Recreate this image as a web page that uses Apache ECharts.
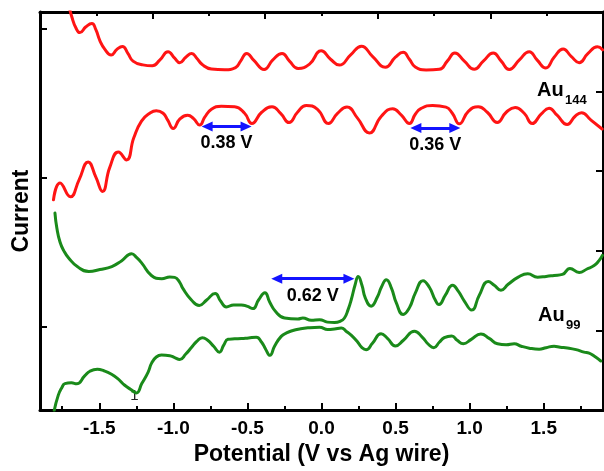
<!DOCTYPE html>
<html>
<head>
<meta charset="utf-8">
<script src="https://cdn.jsdelivr.net/npm/echarts@6/dist/echarts.min.js"></script>
<style>
html, body { margin: 0; padding: 0; background: #fff; }
#echart { width: 604px; height: 471px; }
</style>
</head>
<body>
<div id="echart"></div>
<script>
// potential axis (V vs Ag wire)
var potentialLabels = [-1.5, -1.0, -0.5, 0.0, 0.5, 1.0, 1.5];
var potentialMinor = [-1.75, -1.25, -0.75, -0.25, 0.25, 0.75, 1.25, 1.75];

// Au144, two sweeps [potential, current (a.u.)]
var au144Top = [
	[-1.708, 5.099], [-1.685, 4.938], [-1.658, 4.802], [-1.631, 4.741], [-1.590, 4.815], [-1.550, 4.856],
	[-1.523, 4.778], [-1.496, 4.642], [-1.462, 4.531], [-1.420, 4.459], [-1.381, 4.531], [-1.344, 4.568],
	[-1.307, 4.481], [-1.272, 4.383], [-1.206, 4.336], [-1.142, 4.325], [-1.092, 4.395], [-1.036, 4.500],
	[-0.991, 4.420], [-0.957, 4.364], [-0.916, 4.432], [-0.876, 4.479], [-0.842, 4.420], [-0.805, 4.340],
	[-0.743, 4.284], [-0.654, 4.275], [-0.580, 4.302], [-0.546, 4.383], [-0.505, 4.479], [-0.458, 4.395],
	[-0.387, 4.278], [-0.330, 4.395], [-0.266, 4.479], [-0.216, 4.383], [-0.158, 4.290], [-0.081, 4.346],
	[-0.002, 4.512], [0.061, 4.407], [0.121, 4.333], [0.195, 4.457], [0.270, 4.570], [0.344, 4.444],
	[0.431, 4.305], [0.499, 4.432], [0.551, 4.494], [0.593, 4.407], [0.633, 4.309], [0.706, 4.272],
	[0.795, 4.280], [0.849, 4.383], [0.900, 4.485], [0.964, 4.383], [1.031, 4.280], [1.092, 4.383],
	[1.159, 4.485], [1.213, 4.383], [1.267, 4.278], [1.334, 4.395], [1.402, 4.502], [1.456, 4.395],
	[1.514, 4.296], [1.570, 4.432], [1.631, 4.535], [1.685, 4.444], [1.739, 4.364], [1.799, 4.481],
	[1.862, 4.562], [1.897, 4.525]
];
var au144Bottom = [
	[-1.809, 2.642], [-1.765, 2.852], [-1.695, 2.679], [-1.637, 2.889], [-1.575, 3.117], [-1.523, 2.926],
	[-1.478, 2.747], [-1.429, 3.049], [-1.371, 3.241], [-1.316, 3.142], [-1.267, 3.420], [-1.215, 3.630],
	[-1.159, 3.728], [-1.115, 3.759], [-1.069, 3.728], [-1.038, 3.642], [-1.001, 3.537], [-0.957, 3.654],
	[-0.903, 3.704], [-0.863, 3.660], [-0.822, 3.580], [-0.788, 3.679], [-0.743, 3.778], [-0.676, 3.815],
	[-0.586, 3.809], [-0.519, 3.728], [-0.470, 3.599], [-0.404, 3.741], [-0.334, 3.809], [-0.276, 3.728],
	[-0.219, 3.611], [-0.162, 3.741], [-0.103, 3.827], [-0.027, 3.778], [0.047, 3.599], [0.108, 3.728],
	[0.172, 3.806], [0.243, 3.667], [0.323, 3.481], [0.404, 3.691], [0.480, 3.784], [0.539, 3.704],
	[0.593, 3.599], [0.633, 3.716], [0.670, 3.786], [0.750, 3.827], [0.840, 3.805], [0.883, 3.728],
	[0.930, 3.595], [0.991, 3.753], [1.058, 3.811], [1.119, 3.741], [1.186, 3.611], [1.247, 3.741],
	[1.307, 3.800], [1.368, 3.728], [1.422, 3.599], [1.482, 3.716], [1.536, 3.790], [1.590, 3.704],
	[1.658, 3.586], [1.712, 3.691], [1.755, 3.735], [1.819, 3.642], [1.894, 3.531]
];

// Au99, two sweeps
var au99Top = [
	[-1.799, 2.475], [-1.786, 2.284], [-1.765, 2.111], [-1.739, 2.000], [-1.708, 1.914], [-1.644, 1.796],
	[-1.570, 1.741], [-1.496, 1.765], [-1.415, 1.802], [-1.348, 1.877], [-1.282, 1.963], [-1.247, 1.914],
	[-1.213, 1.846], [-1.148, 1.691], [-1.078, 1.651], [-1.024, 1.673], [-0.991, 1.667], [-0.957, 1.605],
	[-0.937, 1.531], [-0.878, 1.383], [-0.825, 1.315], [-0.775, 1.383], [-0.718, 1.465], [-0.681, 1.370],
	[-0.642, 1.296], [-0.593, 1.321], [-0.541, 1.321], [-0.499, 1.302], [-0.463, 1.275], [-0.425, 1.383],
	[-0.382, 1.475], [-0.350, 1.358], [-0.310, 1.238], [-0.249, 1.157], [-0.160, 1.144], [-0.126, 1.157],
	[-0.069, 1.127], [-0.013, 1.136], [0.040, 1.105], [0.088, 1.099], [0.128, 1.117], [0.155, 1.157],
	[0.179, 1.259], [0.202, 1.395], [0.226, 1.568], [0.248, 1.679], [0.273, 1.568], [0.296, 1.407],
	[0.335, 1.305], [0.377, 1.420], [0.404, 1.543], [0.438, 1.638], [0.472, 1.531], [0.505, 1.346],
	[0.551, 1.201], [0.593, 1.284], [0.633, 1.469], [0.685, 1.626], [0.728, 1.543], [0.768, 1.383],
	[0.793, 1.325], [0.836, 1.444], [0.885, 1.568], [0.923, 1.494], [0.964, 1.370], [1.014, 1.256],
	[1.065, 1.444], [1.125, 1.615], [1.166, 1.568], [1.211, 1.506], [1.260, 1.580], [1.328, 1.670],
	[1.392, 1.712], [1.458, 1.670], [1.516, 1.679], [1.570, 1.691], [1.626, 1.704], [1.677, 1.780],
	[1.739, 1.728], [1.792, 1.772], [1.840, 1.815], [1.873, 1.877], [1.896, 1.944]
];
var au99Bottom = [
	[-1.804, -0.006], [-1.777, 0.185], [-1.752, 0.284], [-1.732, 0.333], [-1.688, 0.342], [-1.653, 0.330],
	[-1.597, 0.432], [-1.563, 0.488], [-1.513, 0.512], [-1.469, 0.494], [-1.417, 0.451], [-1.375, 0.395],
	[-1.328, 0.312], [-1.287, 0.259], [-1.249, 0.216], [-1.213, 0.333], [-1.170, 0.478], [-1.146, 0.593],
	[-1.115, 0.667], [-1.080, 0.691], [-1.024, 0.683], [-0.991, 0.660], [-0.957, 0.636], [-0.916, 0.704],
	[-0.878, 0.786], [-0.842, 0.864], [-0.805, 0.910], [-0.768, 0.877], [-0.728, 0.802], [-0.689, 0.728],
	[-0.660, 0.815], [-0.631, 0.889], [-0.586, 0.895], [-0.541, 0.898], [-0.492, 0.907], [-0.440, 0.916],
	[-0.404, 0.852], [-0.377, 0.765], [-0.348, 0.688], [-0.317, 0.802], [-0.272, 0.926], [-0.236, 0.969],
	[-0.193, 1.000], [-0.148, 1.019], [-0.092, 1.033], [-0.013, 1.040], [0.042, 1.012], [0.088, 1.019],
	[0.133, 1.031], [0.168, 0.988], [0.202, 0.938], [0.245, 0.852], [0.270, 0.790], [0.301, 0.759],
	[0.344, 0.840], [0.402, 0.959], [0.445, 0.901], [0.499, 0.806], [0.553, 0.877], [0.627, 0.991],
	[0.681, 0.914], [0.721, 0.827], [0.758, 0.784], [0.795, 0.852], [0.829, 0.910], [0.879, 0.932],
	[0.916, 0.877], [0.957, 0.833], [1.011, 0.889], [1.076, 0.956], [1.132, 0.901], [1.188, 0.833],
	[1.247, 0.821], [1.301, 0.833], [1.348, 0.802], [1.402, 0.778], [1.469, 0.765], [1.516, 0.784],
	[1.570, 0.802], [1.611, 0.790], [1.660, 0.780], [1.718, 0.759], [1.772, 0.728], [1.806, 0.716],
	[1.840, 0.679], [1.885, 0.617]
];

// peak separations (arrow ends, label)
var gap144a = [[-0.772, 3.562], [-0.509, 3.562], '0.38 V'];
var gap144b = [[0.637, 3.543], [0.900, 3.543], '0.36 V'];
var gap99 = [[-0.302, 1.651], [0.185, 1.651], '0.62 V'];

var font = 'Liberation Sans, Arial, sans-serif';
var red = '#ff1414';
var green = '#1a8a1a';
var blue = '#1414ff';
var frame = { onZero: false, lineStyle: { color: '#000', width: 3 } };

function arrow(g) {
	return [{
		coord: g[0],
		label: { formatter: g[2] }
	}, {
		coord: g[1]
	}];
}

function curve(data, color, marks) {
	var s = {
		type: 'line',
		data: data,
		smooth: 0.5,
		showSymbol: false,
		lineStyle: { color: color, width: 3, join: 'round', cap: 'round' },
		silent: true
	};
	if (marks) {
		s.markLine = {
			silent: true,
			symbol: ['triangle', 'triangle'],
			symbolSize: [10, 11],
			lineStyle: { color: blue, width: 3, type: 'solid' },
			label: {
				show: true,
				position: 'insideMiddleBottom',
				distance: 8,
				color: '#000',
				fontFamily: font,
				fontWeight: 'bold',
				fontSize: 18
			},
			data: marks.map(arrow)
		};
	}
	return s;
}

function ticks(values, len) {
	return { show: true, inside: true, length: len, customValues: values, lineStyle: { width: 2, color: '#000' } };
}

var myChart = echarts.init(document.getElementById('echart'));
myChart.setOption({
	animation: false,
	grid: { left: 40, right: 1, top: 12, bottom: 54 },
	xAxis: [{
		type: 'value',
		position: 'bottom',
		min: -1.9,
		max: 1.9,
		name: 'Potential (V vs Ag wire)',
		nameLocation: 'middle',
		nameGap: 29,
		nameTextStyle: { fontFamily: font, fontWeight: 'bold', fontSize: 23, color: '#000' },
		axisLine: frame,
		axisTick: ticks(potentialLabels, 7),
		axisLabel: {
			customValues: potentialLabels,
			margin: 9,
			fontFamily: font,
			fontWeight: 'bold',
			fontSize: 19,
			color: '#000',
			formatter: function (v) { return v.toFixed(1); }
		},
		splitLine: { show: false }
	}, {
		type: 'value',
		position: 'bottom',
		min: -1.9,
		max: 1.9,
		axisLine: { show: false, onZero: false },
		axisTick: ticks(potentialMinor, 4),
		axisLabel: { show: false },
		splitLine: { show: false }
	}, {
		type: 'value',
		position: 'top',
		min: -5,
		max: 5,
		axisLine: frame,
		axisTick: ticks([-3, -1, 1, 3], 7),
		axisLabel: { show: false },
		splitLine: { show: false }
	}, {
		type: 'value',
		position: 'top',
		min: -5,
		max: 5,
		axisLine: { show: false, onZero: false },
		axisTick: ticks([-4, -2, 0, 2, 4], 4),
		axisLabel: { show: false },
		splitLine: { show: false }
	}],
	yAxis: [{
		type: 'value',
		position: 'right',
		min: 0,
		max: 5,
		axisLine: { show: true, onZero: false, lineStyle: { color: '#000', width: 3 } },
		axisTick: ticks([1, 2, 3, 4], 7),
		axisLabel: { show: false },
		splitLine: { show: false }
	}, {
		type: 'value',
		position: 'left',
		min: -0.561,
		max: 2.112,
		name: 'Current',
		nameLocation: 'middle',
		nameGap: 7,
		nameTextStyle: { fontFamily: font, fontWeight: 'bold', fontSize: 23, color: '#000' },
		axisLine: { show: true, onZero: false, lineStyle: { color: '#000', width: 3 } },
		axisTick: ticks([0, 1, 2], 7),
		axisLabel: { show: false },
		splitLine: { show: false }
	}],
	series: [
		curve(au144Top, red),
		curve(au144Bottom, red, [gap144a, gap144b]),
		curve(au99Top, green, [gap99]),
		curve(au99Bottom, green)
	],
	graphic: [
		{ type: 'text', x: 537, y: 90, style: { text: 'Au', font: 'bold 20px ' + font, fill: '#000', verticalAlign: 'middle' } },
		{ type: 'text', x: 565, y: 100, style: { text: '144', font: 'bold 13px ' + font, fill: '#000', verticalAlign: 'middle' } },
		{ type: 'text', x: 538, y: 315, style: { text: 'Au', font: 'bold 20px ' + font, fill: '#000', verticalAlign: 'middle' } },
		{ type: 'text', x: 566, y: 325, style: { text: '99', font: 'bold 13px ' + font, fill: '#000', verticalAlign: 'middle' } },
		{ type: 'text', x: 134.5, y: 396, style: { text: '1', font: '15px ' + font, fill: '#222', align: 'center', verticalAlign: 'middle' } }
	]
});
</script>
</body>
</html>
